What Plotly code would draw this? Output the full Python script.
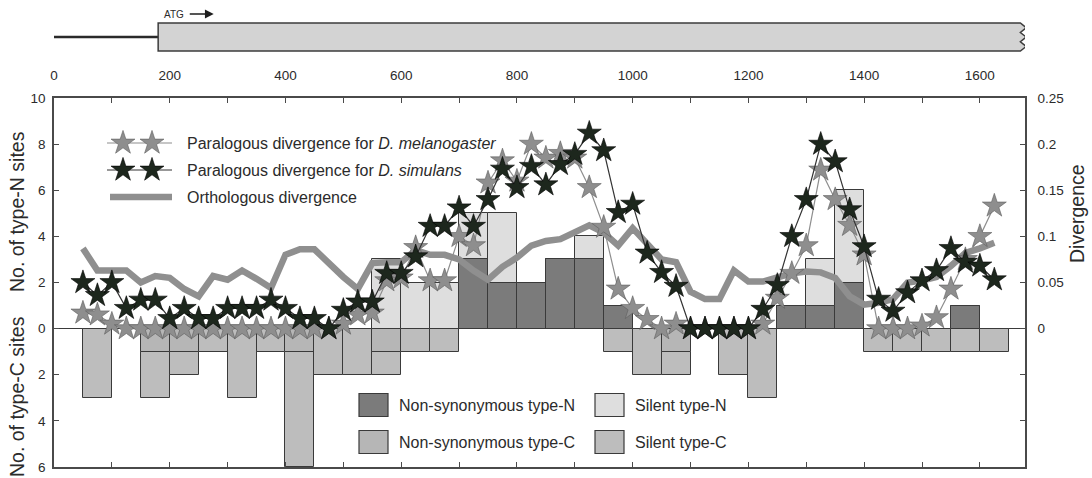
import plotly.graph_objects as go

# ---------------- data ----------------
# 50-bp bins (left edges) for site counts
bin_left = [50 + 50 * i for i in range(32)]
bin_width = 50
nonsyn_N = [0, 0, 0, 0, 0, 0, 0, 0, 0, 0, 0, 0, 0, 3, 2, 2, 3, 3, 1, 0, 0, 0, 0, 0, 1, 1, 2, 0, 0, 0, 1, 0]
silent_N = [0, 0, 0, 0, 0, 0, 0, 0, 0, 0, 3, 2, 2, 2, 3, 0, 0, 1, 0, 0, 0, 0, 0, 0, 0, 2, 4, 0, 0, 0, 0, 0]
nonsyn_C = [0, 0, 1, 1, 0, 0, 0, 1, 0, 0, 1, 0, 0, 0, 0, 0, 0, 0, 0, 0, 1, 0, 0, 0, 0, 0, 0, 0, 0, 0, 0, 0]
silent_C = [3, 0, 2, 1, 1, 3, 1, 5, 2, 2, 1, 1, 1, 0, 0, 0, 0, 0, 1, 2, 1, 0, 2, 3, 0, 0, 0, 1, 1, 1, 1, 1]

# sliding-window divergence (window midpoints every 25 bp)
win_pos = [50 + 25 * k for k in range(64)]
div_mel = [0.017, 0.015, 0.005, 0, 0, 0, 0, 0, 0, 0, 0, 0, 0, 0, 0, 0, 0, 0,
           0.005, 0.015, 0.017, 0.052, 0.055, 0.088, 0.052, 0.052, 0.100, 0.090,
           0.158, 0.182, 0.160, 0.200, 0.185, 0.190, 0.185, 0.153, 0.110, 0.043,
           0.022, 0.010, 0, 0.005, 0, 0, 0, 0, 0, 0.005, 0.033, 0.060, 0.090,
           0.172, 0.140, 0.112, 0.080, 0, 0, 0, 0.003, 0.012, 0.043, 0.075, 0.100, 0.133]
div_sim = [0.050, 0.036, 0.050, 0.022, 0.031, 0.031, 0.011, 0.022, 0.011, 0.011,
           0.022, 0.022, 0.022, 0.031, 0.022, 0.011, 0.011, 0, 0.020, 0.029,
           0.029, 0.060, 0.060, 0.078, 0.111, 0.111, 0.131, 0.111, 0.140, 0.173,
           0.153, 0.176, 0.156, 0.178, 0.189, 0.212, 0.193, 0.126, 0.135, 0.082,
           0.061, 0.046, 0, 0, 0, 0, 0, 0.021, 0.047, 0.100, 0.140, 0.200, 0.181,
           0.129, 0.089, 0.032, 0.019, 0.039, 0.052, 0.063, 0.087, 0.072, 0.068, 0.053]
div_orth = [0.087, 0.063, 0.063, 0.063, 0.050, 0.057, 0.055, 0.043, 0.035, 0.057,
            0.053, 0.063, 0.054, 0.044, 0.080, 0.086, 0.086, 0.070, 0.056, 0.043,
            0.071, 0.072, 0.072, 0.085, 0.080, 0.080, 0.075, 0.063, 0.053, 0.067,
            0.077, 0.090, 0.095, 0.097, 0.104, 0.112, 0.104, 0.090, 0.109, 0.091,
            0.075, 0.072, 0.040, 0.032, 0.032, 0.063, 0.051, 0.051, 0.055, 0.060,
            0.062, 0.061, 0.055, 0.035, 0.026, 0.028, 0.032, 0.050, 0.052, 0.056,
            0.068, 0.082, 0.087, 0.093]

# gene structure
utr_start, atg_pos, gene_end = 0, 180, 1670

x_ticks = list(range(0, 1700, 100))
x_tick_labels = [str(v) if v % 200 == 0 else "" for v in x_ticks]
y_ticks = [-6, -4, -2, 0, 2, 4, 6, 8, 10]
y_tick_labels = ["6", "4", "2", "0", "2", "4", "6", "8", "10"]
div_ticks = [-0.1, -0.05, 0, 0.05, 0.1, 0.15, 0.2, 0.25]
div_tick_labels = ["", "", "0", "0.05", "0.1", "0.15", "0.2", "0.25"]

# ---------------- styles ----------------
W, H = 1092, 478
ML, MR, MT, MB = 54, 67, 10, 11
PLOT_TOP_PX = 98
FONT = "Liberation Sans, Arial, sans-serif"
TXT = "#2b2b2b"
AX = "#4a4a4a"
C_NSN = "#7b7b7b"
C_SN = "#dedede"
C_NSC = "#b6b6b6"
C_SC = "#bdbdbd"
C_EDGE = "#3a3a3a"
C_MEL = "#8e8e8e"
C_SIM = "#1d271d"
C_ORTH = "#8f8f8f"
STAR = 18

pw = W - ML - MR
ph = H - MT - MB


def fx(px):
    return (px - ML) / pw


def fy(py):
    return (H - MB - py) / ph


main_top = fy(PLOT_TOP_PX)

fig = go.Figure()

centers = [b + bin_width / 2 for b in bin_left]
fig.add_trace(go.Bar(x=centers, y=nonsyn_N, base=[0] * len(centers), width=bin_width,
                     marker=dict(color=C_NSN, line=dict(color=C_EDGE, width=1)),
                     xaxis="x", yaxis="y", showlegend=False))
fig.add_trace(go.Bar(x=centers, y=silent_N, base=nonsyn_N, width=bin_width,
                     marker=dict(color=C_SN, line=dict(color=C_EDGE, width=1)),
                     xaxis="x", yaxis="y", showlegend=False))
fig.add_trace(go.Bar(x=centers, y=[-v for v in nonsyn_C], base=[0] * len(centers), width=bin_width,
                     marker=dict(color=C_NSC, line=dict(color=C_EDGE, width=1)),
                     xaxis="x", yaxis="y", showlegend=False))
fig.add_trace(go.Bar(x=centers, y=[-v for v in silent_C], base=[-v for v in nonsyn_C], width=bin_width,
                     marker=dict(color=C_SC, line=dict(color=C_EDGE, width=1)),
                     xaxis="x", yaxis="y", showlegend=False))

fig.add_trace(go.Scatter(x=win_pos, y=div_orth, mode="lines",
                         line=dict(color=C_ORTH, width=6.5), xaxis="x", yaxis="y2",
                         showlegend=False))
fig.add_trace(go.Scatter(x=win_pos, y=div_mel, mode="lines+markers",
                         line=dict(color=C_MEL, width=1.2),
                         marker=dict(symbol="star", size=STAR, color=C_MEL,
                                     line=dict(color="#5e5e5e", width=0.6)),
                         xaxis="x", yaxis="y2", showlegend=False))
fig.add_trace(go.Scatter(x=win_pos, y=div_sim, mode="lines+markers",
                         line=dict(color="#333333", width=1.2),
                         marker=dict(symbol="star", size=STAR, color=C_SIM,
                                     line=dict(color="#000000", width=0.6)),
                         xaxis="x", yaxis="y2", showlegend=False))

# ---- legend glyphs on a pixel-space overlay axis ----
leg_rows = [143, 170, 197]
for yy, col, lc, oc in [(leg_rows[0], C_MEL, C_MEL, "#5e5e5e"), (leg_rows[1], C_SIM, "#333333", "#000000")]:
    fig.add_trace(go.Scatter(x=[107, 172], y=[yy, yy], mode="lines",
                             line=dict(color=lc, width=1.2), xaxis="x3", yaxis="y3",
                             showlegend=False))
    fig.add_trace(go.Scatter(x=[123, 152], y=[yy, yy], mode="markers",
                             marker=dict(symbol="star", size=STAR, color=col,
                                         line=dict(color=oc, width=0.6)),
                             xaxis="x3", yaxis="y3", showlegend=False))
fig.add_trace(go.Scatter(x=[110, 172], y=[leg_rows[2]] * 2, mode="lines",
                         line=dict(color=C_ORTH, width=6.5), xaxis="x3", yaxis="y3",
                         showlegend=False))

shapes = []
annos = []
leg_texts = ["Paralogous divergence for <i>D. melanogaster</i>",
             "Paralogous divergence for <i>D. simulans</i>",
             "Orthologous divergence"]
for yy, t in zip(leg_rows, leg_texts):
    annos.append(dict(x=fx(185), y=fy(yy), xref="paper", yref="paper", text=t,
                      showarrow=False, xanchor="left", yanchor="middle",
                      font=dict(family=FONT, size=16, color=TXT)))

# bar legend
swatches = [(359, 405, C_NSN, "Non-synonymous type-N"), (595, 405, C_SN, "Silent type-N"),
            (359, 442, C_NSC, "Non-synonymous type-C"), (595, 442, C_SC, "Silent type-C")]
for sx, sy, col, t in swatches:
    shapes.append(dict(type="rect", xref="paper", yref="paper",
                       x0=fx(sx), x1=fx(sx + 29), y0=fy(sy - 11.5), y1=fy(sy + 11.5),
                       fillcolor=col, line=dict(color=C_EDGE, width=1.2)))
    annos.append(dict(x=fx(sx + 38), y=fy(sy), xref="paper", yref="paper", text=t,
                      showarrow=False, xanchor="left", yanchor="middle",
                      font=dict(family=FONT, size=16, color=TXT)))

# gene diagram (x in bp; y4 spans pixel rows 56 -> 10)
def gy(py):
    return (56 - py) / 46


shapes.append(dict(type="line", xref="x", yref="y4", x0=utr_start, x1=atg_pos, y0=gy(37), y1=gy(37),
                   line=dict(color="#2a2a2a", width=2.5)))
zig = 10
yt, yb = gy(23), gy(51)
zs = [yt + (yb - yt) * f for f in (0.0, 0.17, 0.34, 0.5, 0.67, 0.84, 1.0)]
path = (f"M {atg_pos},{yt} L {gene_end},{zs[0]} L {gene_end + zig},{zs[1]} L {gene_end},{zs[2]} "
        f"L {gene_end + zig},{zs[3]} L {gene_end},{zs[4]} L {gene_end + zig},{zs[5]} L {gene_end},{zs[6]} "
        f"L {atg_pos},{yb} Z")
shapes.append(dict(type="path", xref="x", yref="y4", path=path, fillcolor="#d3d3d3",
                   line=dict(color="#3c3c3c", width=1.5)))
annos.append(dict(x=atg_pos + 27, y=gy(14), xref="x", yref="y4", text="ATG", showarrow=False,
                  font=dict(family=FONT, size=10, color=TXT), xanchor="center", yanchor="middle"))
annos.append(dict(x=atg_pos + 96, y=gy(14), ax=atg_pos + 52, ay=gy(14), xref="x", yref="y4",
                  axref="x", ayref="y4", text="", showarrow=True, arrowhead=2, arrowsize=1.1,
                  arrowwidth=1.6, arrowcolor="#1e1e1e"))

# axis titles
title_font = dict(family=FONT, size=19.5, color=TXT)
annos.append(dict(x=fx(17), y=fy(212), xref="paper", yref="paper", text="No. of type-N sites",
                  textangle=-90, showarrow=False, xanchor="center", yanchor="middle", font=title_font))
annos.append(dict(x=fx(17), y=fy(397), xref="paper", yref="paper", text="No. of type-C sites",
                  textangle=-90, showarrow=False, xanchor="center", yanchor="middle", font=title_font))
annos.append(dict(x=fx(1077), y=fy(214), xref="paper", yref="paper", text="Divergence",
                  textangle=-90, showarrow=False, xanchor="center", yanchor="middle", font=title_font))

x_range = [0, 1678]
tickfont = dict(family=FONT, size=13.5, color=TXT)

fig.update_layout(
    width=W, height=H, margin=dict(l=ML, r=MR, t=MT, b=MB, autoexpand=False),
    paper_bgcolor="white", plot_bgcolor="rgba(0,0,0,0)",
    barmode="overlay", bargap=0,
    shapes=shapes, annotations=annos,
    xaxis=dict(domain=[0, 1], range=x_range, anchor="y", side="top", showgrid=False,
               zeroline=False, showline=True, linecolor=AX, linewidth=1.5, mirror="ticks",
               ticks="inside", ticklen=5, tickcolor=AX, tickvals=x_ticks, ticktext=x_tick_labels,
               tickfont=tickfont, ticklabelstandoff=11, automargin=False),
    yaxis=dict(domain=[0, main_top], range=[-6, 10], anchor="x", showgrid=False,
               zeroline=True, zerolinecolor="#3a3a3a", zerolinewidth=1.3,
               showline=True, linecolor=AX, linewidth=1.5, ticks="inside", ticklen=5,
               tickcolor=AX, tickvals=y_ticks, ticktext=y_tick_labels, tickfont=tickfont,
               ticklabelstandoff=4, automargin=False),
    yaxis2=dict(overlaying="y", range=[-0.15, 0.25], anchor="x", side="right", showgrid=False,
                zeroline=False, showline=True, linecolor=AX, linewidth=1.5, ticks="inside",
                ticklen=5, tickcolor=AX, tickvals=div_ticks, ticktext=div_tick_labels,
                tickfont=tickfont, ticklabelstandoff=8, automargin=False),
    xaxis3=dict(domain=[0, 1], range=[ML, W - MR], anchor="y3", visible=False),
    yaxis3=dict(domain=[0, 1], range=[H - MB, MT], anchor="x3", visible=False),
    yaxis4=dict(domain=[fy(56), 1], range=[0, 1], anchor="x", visible=False),
)

fig.write_html("out.html")
